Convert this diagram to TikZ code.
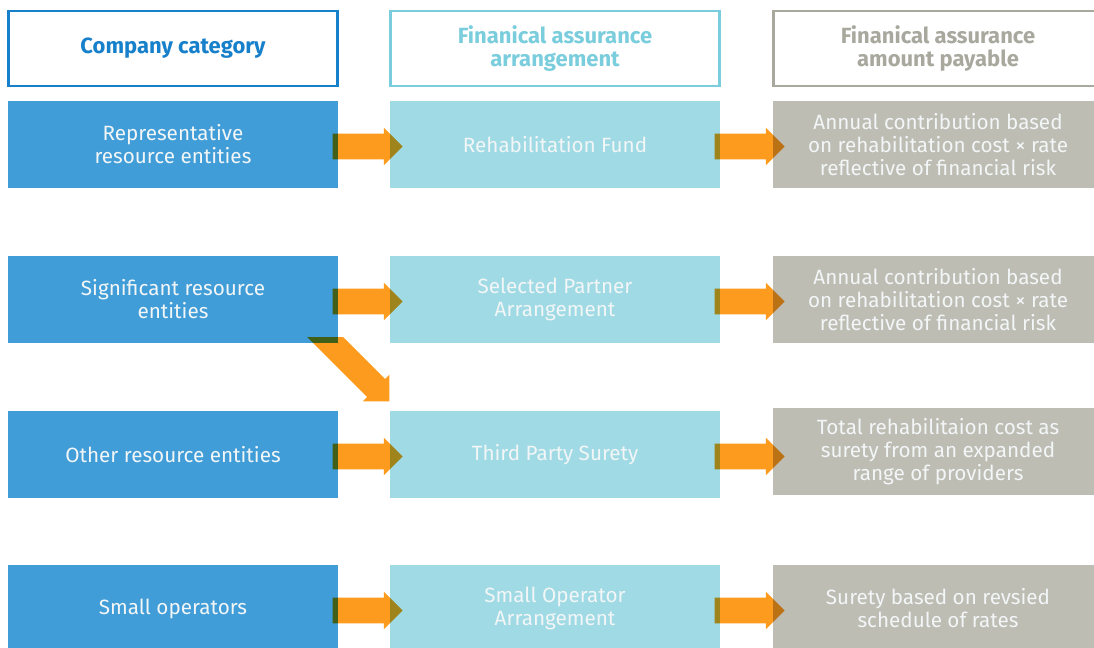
\documentclass[tikz,border=0pt]{standalone}
\usepackage{fontspec}
\setmainfont{Fira Sans}
\usepackage{xcolor}
\usepackage{tikz}
\usetikzlibrary{shapes.arrows, positioning, calc}
\definecolor{catblue}{RGB}{65, 157, 216}
\definecolor{catline}{RGB}{22, 128, 202}
\definecolor{arrcyan}{RGB}{160, 218, 228}
\definecolor{arrline}{RGB}{122, 205, 220}
\definecolor{paygray}{RGB}{190, 189, 180}
\definecolor{payline}{RGB}{168, 168, 158}
\definecolor{floworange}{RGB}{252, 155, 30}
\definecolor{boxtext}{RGB}{242, 246, 247}

\begin{document}
\begin{tikzpicture}[x=0.75pt, y=-0.75pt,
    box/.style={rectangle, minimum width=247.5pt, minimum height=65.5pt, inner sep=0pt, align=center, text=boxtext, font=\fontsize{15.5}{17.25}\selectfont},
    category/.style={box, fill=catblue},
    arrangement/.style={box, fill=arrcyan},
    payable/.style={box, fill=paygray},
    header/.style={box, fill=white, line width=1.8pt, minimum width=247pt, minimum height=56.5pt, font=\fontsize{16.5}{17.25}\selectfont\bfseries},
    flow/.style={single arrow, fill=floworange, minimum height=52.5pt, minimum width=27.75pt, single arrow head extend=4.5pt, inner xsep=0pt, inner ysep=9.375pt}
]
    \useasboundingbox (0,0) rectangle (1094,648);

    % column headers
    \node[header, draw=catline, text=catline] (hcat) at (173, 48.5) {Company category};
    \node[header, draw=arrline, text=arrline] (harr) at (555, 48.5) {Finanical assurance\\arrangement};
    \node[header, draw=payline, text=payline] (hpay) at (938, 48.5) {Finanical assurance\\amount payable};

    % company categories
    \node[category] (rep) at (173, 144.5) {Representative\\resource entities};
    \node[category] (sig) at (173, 299.5) {Significant resource\\entities};
    \node[category] (oth) at (173, 454.5) {Other resource entities};
    \node[category] (sml) at (173, 608.5) {Small operators};

    % arrangements
    \node[arrangement] (fund) at (555, 144.5) {Rehabilitation Fund};
    \node[arrangement] (part) at (555, 299.5) {Selected Partner\\Arrangement};
    \node[arrangement] (sur) at (555, 454.5) {Third Party Surety};
    \node[arrangement] (soa) at (555, 608.5) {Small Operator\\Arrangement};

    % amounts payable
    \node[payable] (pfund) at (938, 144.5) {Annual contribution based\\on rehabilitation cost \texttimes{} rate\\reflective of financial risk};
    \node[payable] (ppart) at (938, 299.5) {Annual contribution based\\on rehabilitation cost \texttimes{} rate\\reflective of financial risk};
    \node[payable] (psur) at (938, 451.5) {Total rehabilitaion cost as\\surety from an expanded\\range of providers};
    \node[payable] (psoa) at (938, 608.5) {Surety based on revsied\\schedule of rates};

    % orange flow arrows, multiplied over the boxes
    \begin{scope}[blend mode=multiply]
        \foreach \a/\b in {rep/fund, sig/part, oth/sur, sml/soa, fund/pfund, part/ppart, sur/psur, soa/psoa}
            \node[flow, anchor=tail] (f-\a) at ($(\a.east)+(-6,2)$) {};
        % diagonal one, tail cut flat just above the box edge
        \begin{scope}
            \clip ($(sig.south west)+(0,-6)$) rectangle (sur.north east);
            \node[flow, rotate=-45, anchor=tip, minimum height=79pt] (f-diag) at ($(sur.north west)+(0,-9)$) {};
        \end{scope}
    \end{scope}

\end{tikzpicture}
\end{document}
